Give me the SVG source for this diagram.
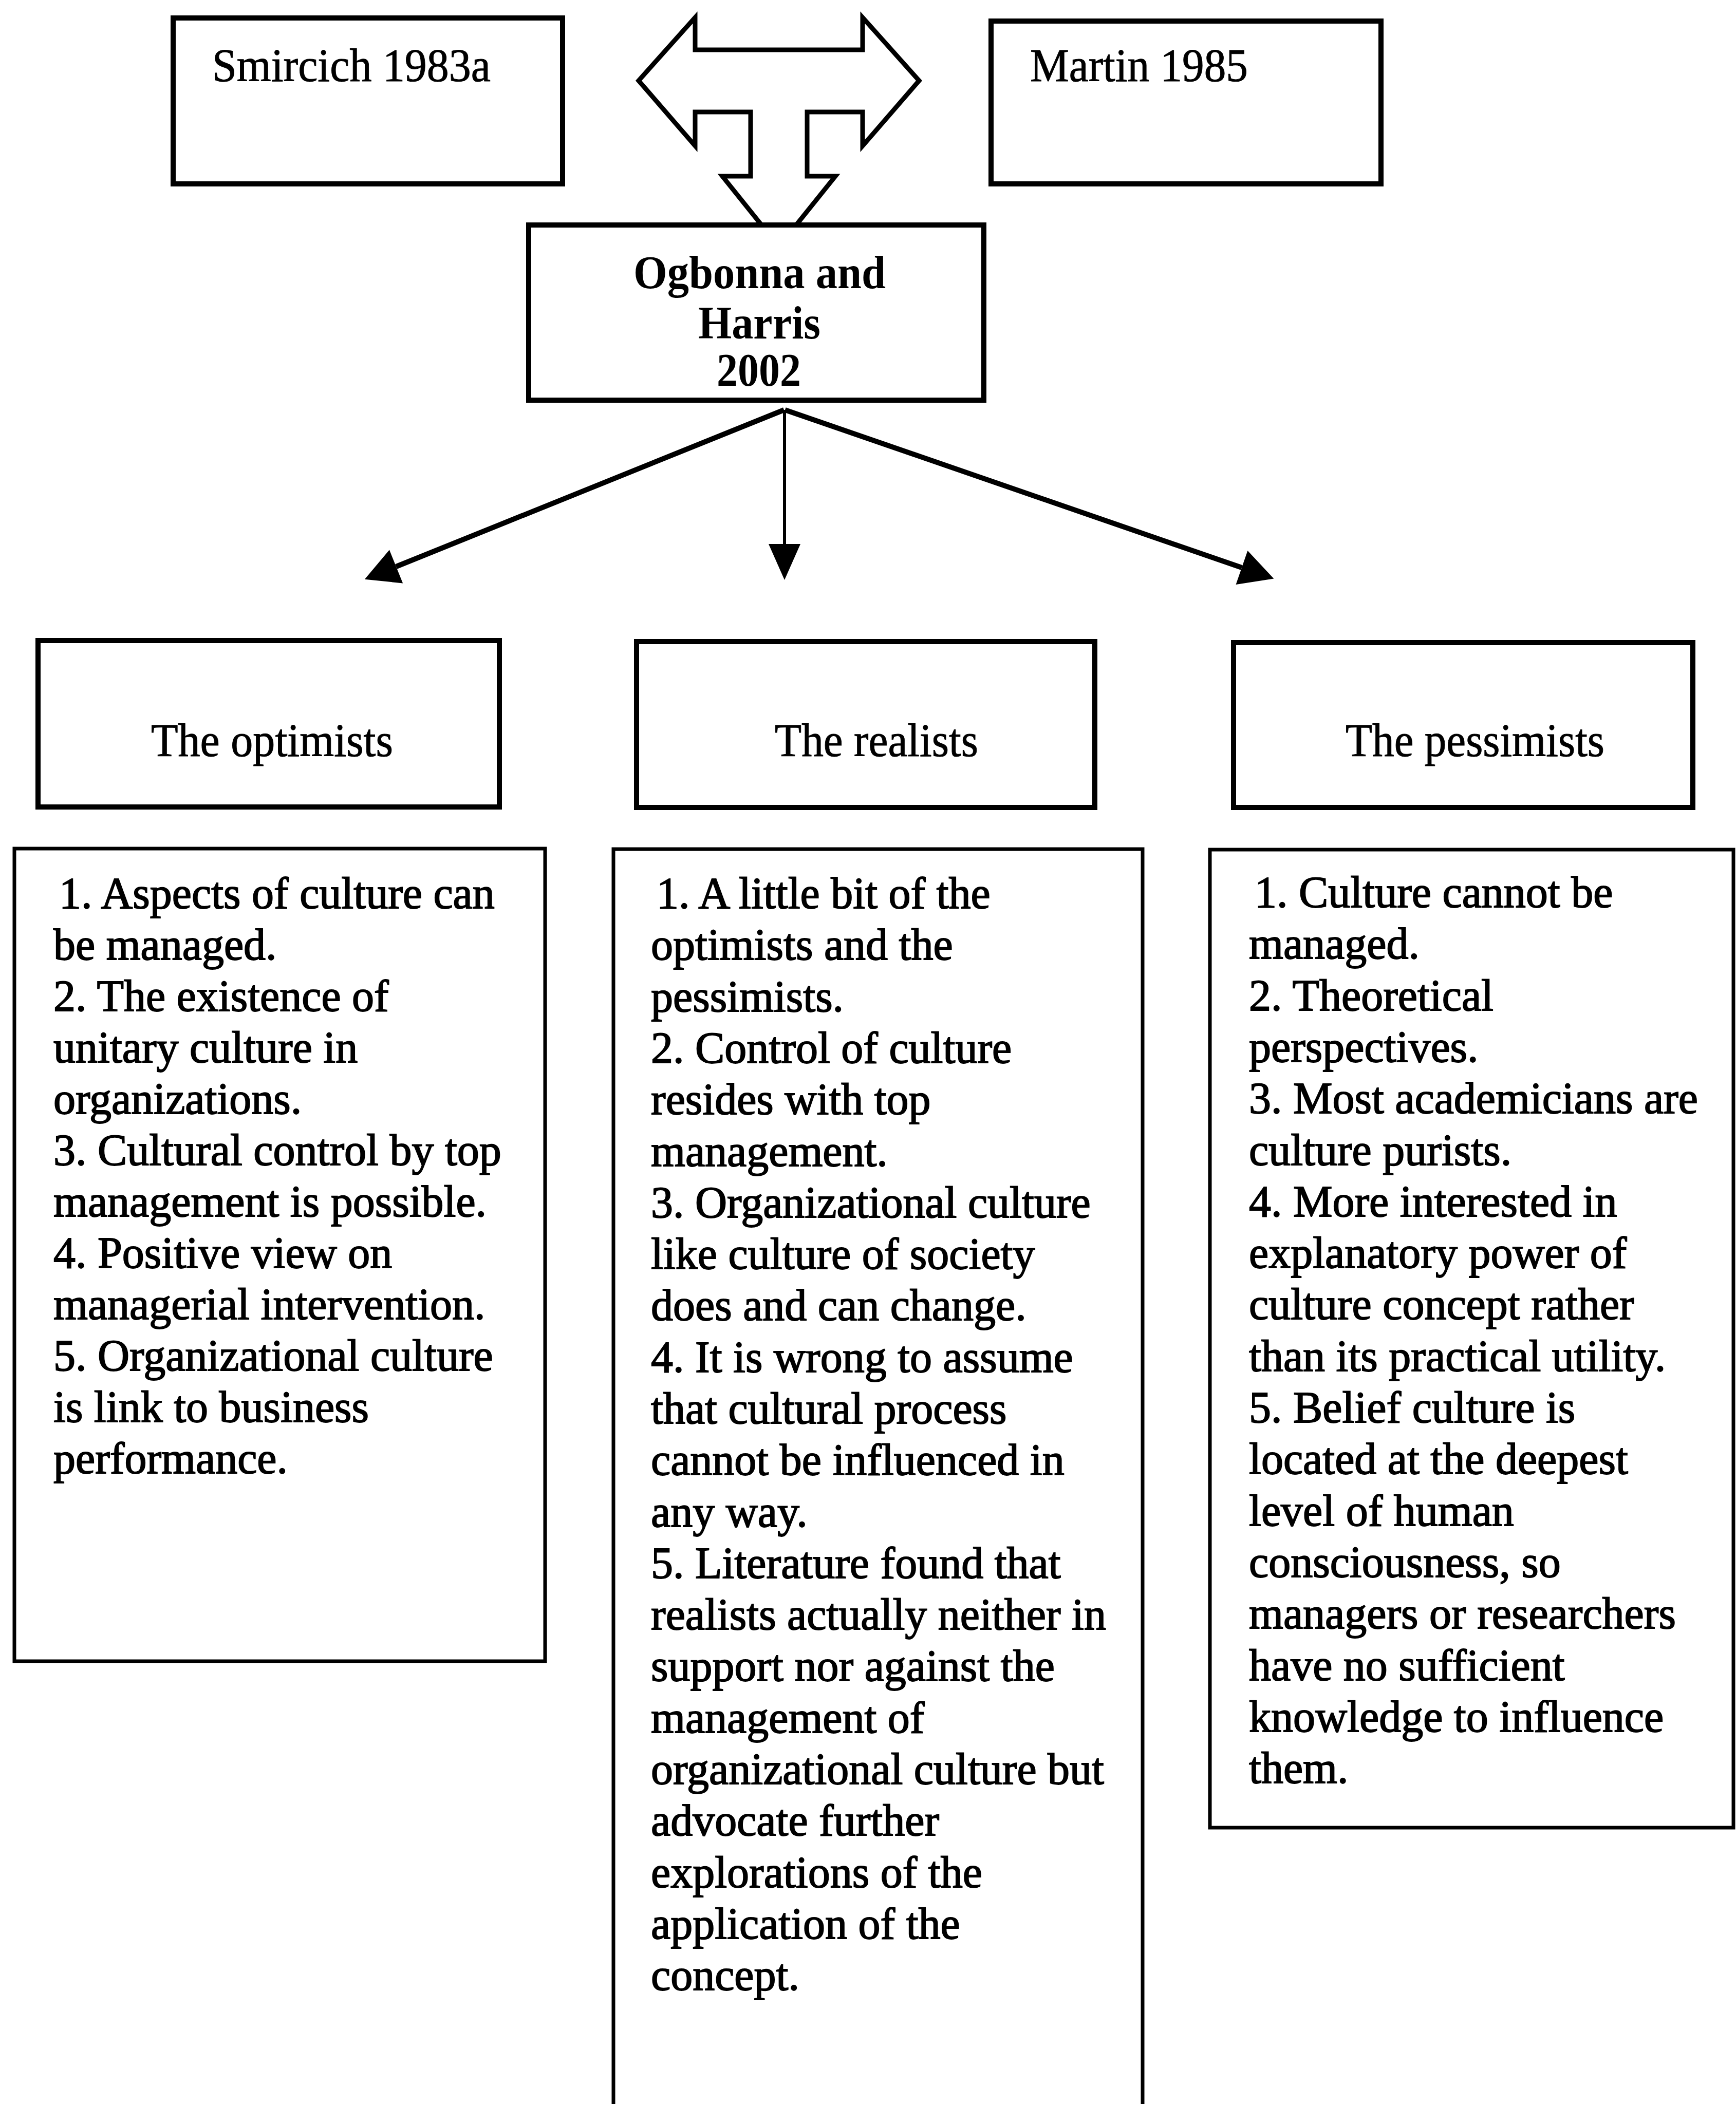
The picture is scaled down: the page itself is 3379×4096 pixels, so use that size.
<svg xmlns="http://www.w3.org/2000/svg" width="3379" height="4096" viewBox="0 0 3379 4096">
  <style>
    .box { fill: #fff; stroke: #000; stroke-width: 10; }
    .list { fill: #fff; stroke: #000; stroke-width: 7; }
    .label { font-family: "Liberation Serif", "Times New Roman", serif; font-size: 92px; fill: #000; stroke: #000; stroke-width: 1; }
    .title { font-family: "Liberation Serif", "Times New Roman", serif; font-size: 90px; font-weight: bold; fill: #000; }
    .item { font-family: "Liberation Serif", "Times New Roman", serif; font-size: 86px; fill: #000; stroke: #000; stroke-width: 1.8; }
    .wire { fill: none; stroke: #000; }
    .block { fill: #fff; stroke: #000; stroke-width: 9; stroke-linejoin: miter; }
  </style>
  <defs>
    <marker id="head" markerUnits="userSpaceOnUse" markerWidth="66" markerHeight="70" refX="0" refY="35" orient="auto" overflow="visible">
      <path d="M0,0 L66,35 L0,70 Z" fill="#000"/>
    </marker>
    <marker id="headNarrow" markerUnits="userSpaceOnUse" markerWidth="70" markerHeight="62" refX="0" refY="31" orient="auto" overflow="visible">
      <path d="M0,0 L70,31 L0,62 Z" fill="#000"/>
    </marker>
  </defs>

  <rect x="0" y="0" width="3379" height="4096" fill="#fff"/>

  <!-- connectors: block double arrow and the three branches -->
  <g id="connectors">
    <polygon class="block" points="1243,157 1353,34 1353,97 1679,97 1679,34 1789,157 1679,284 1679,218 1571,218 1571,343 1626,343 1516,480 1406,343 1461,343 1461,218 1353,218 1353,284"/>
    <line class="wire" x1="1526" y1="798" x2="771" y2="1103" stroke-width="10" marker-end="url(#head)"/>
    <line class="wire" x1="1527" y1="798" x2="1527" y2="1059" stroke-width="6" marker-end="url(#headNarrow)"/>
    <line class="wire" x1="1528" y1="798" x2="2417" y2="1105" stroke-width="10" marker-end="url(#head)"/>
  </g>

  <!-- source references -->
  <g id="smircich">
    <rect class="box" x="337" y="35" width="758" height="323"/>
    <text class="label" x="413" y="158" textLength="542" lengthAdjust="spacingAndGlyphs">Smircich 1983a</text>
  </g>
  <g id="martin">
    <rect class="box" x="1929" y="41" width="759" height="317"/>
    <text class="label" x="2005" y="158" textLength="424" lengthAdjust="spacingAndGlyphs">Martin 1985</text>
  </g>
  <g id="ogbonna">
    <rect class="box" x="1029" y="438" width="886" height="341"/>
    <text class="title" x="1233" y="561" textLength="491" lengthAdjust="spacingAndGlyphs">Ogbonna and</text>
    <text class="title" x="1359" y="659" textLength="238" lengthAdjust="spacingAndGlyphs">Harris</text>
    <text class="title" x="1395" y="751" textLength="164" lengthAdjust="spacingAndGlyphs">2002</text>
  </g>

  <!-- perspective headings -->
  <g id="optimists">
    <rect class="box" x="74" y="1247" width="898" height="324"/>
    <text class="label" x="294" y="1472" textLength="471" lengthAdjust="spacingAndGlyphs">The optimists</text>
  </g>
  <g id="realists">
    <rect class="box" x="1239" y="1249" width="892" height="323"/>
    <text class="label" x="1508" y="1472" textLength="396" lengthAdjust="spacingAndGlyphs">The realists</text>
  </g>
  <g id="pessimists">
    <rect class="box" x="2401" y="1251" width="894" height="321"/>
    <text class="label" x="2619" y="1472" textLength="504" lengthAdjust="spacingAndGlyphs">The pessimists</text>
  </g>

  <!-- perspective details -->
  <g id="optimists-points">
    <rect class="list" x="28" y="1652" width="1033" height="1582"/>
    <text class="item" x="104" y="1768">
      <tspan x="115" y="1768">1. Aspects of culture can</tspan>
      <tspan x="104" y="1868">be managed.</tspan>
      <tspan x="104" y="1968">2. The existence of</tspan>
      <tspan x="104" y="2068">unitary culture in</tspan>
      <tspan x="104" y="2168">organizations.</tspan>
      <tspan x="104" y="2268">3. Cultural control by top</tspan>
      <tspan x="104" y="2368">management is possible.</tspan>
      <tspan x="104" y="2468">4. Positive view on</tspan>
      <tspan x="104" y="2568">managerial intervention.</tspan>
      <tspan x="104" y="2668">5. Organizational culture</tspan>
      <tspan x="104" y="2768">is link to business</tspan>
      <tspan x="104" y="2868">performance.</tspan>
    </text>
  </g>
  <g id="realists-points">
    <rect class="list" x="1194" y="1653" width="1030" height="2600"/>
    <text class="item" x="1267" y="1768">
      <tspan x="1278" y="1768">1. A little bit of the</tspan>
      <tspan x="1267" y="1868">optimists and the</tspan>
      <tspan x="1267" y="1969">pessimists.</tspan>
      <tspan x="1267" y="2069">2. Control of culture</tspan>
      <tspan x="1267" y="2169">resides with top</tspan>
      <tspan x="1267" y="2270">management.</tspan>
      <tspan x="1267" y="2370">3. Organizational culture</tspan>
      <tspan x="1267" y="2470">like culture of society</tspan>
      <tspan x="1267" y="2570">does and can change.</tspan>
      <tspan x="1267" y="2671">4. It is wrong to assume</tspan>
      <tspan x="1267" y="2771">that cultural process</tspan>
      <tspan x="1267" y="2871">cannot be influenced in</tspan>
      <tspan x="1267" y="2972">any way.</tspan>
      <tspan x="1267" y="3072">5. Literature found that</tspan>
      <tspan x="1267" y="3172">realists actually neither in</tspan>
      <tspan x="1267" y="3272">support nor against the</tspan>
      <tspan x="1267" y="3373">management of</tspan>
      <tspan x="1267" y="3473">organizational culture but</tspan>
      <tspan x="1267" y="3573">advocate further</tspan>
      <tspan x="1267" y="3674">explorations of the</tspan>
      <tspan x="1267" y="3774">application of the</tspan>
      <tspan x="1267" y="3874">concept.</tspan>
    </text>
  </g>
  <g id="pessimists-points">
    <rect class="list" x="2355" y="1654" width="1019" height="1904"/>
    <text class="item" x="2431" y="1766">
      <tspan x="2442" y="1766">1. Culture cannot be</tspan>
      <tspan x="2431" y="1866">managed.</tspan>
      <tspan x="2431" y="1967">2. Theoretical</tspan>
      <tspan x="2431" y="2067">perspectives.</tspan>
      <tspan x="2431" y="2167">3. Most academicians are</tspan>
      <tspan x="2431" y="2268">culture purists.</tspan>
      <tspan x="2431" y="2368">4. More interested in</tspan>
      <tspan x="2431" y="2468">explanatory power of</tspan>
      <tspan x="2431" y="2568">culture concept rather</tspan>
      <tspan x="2431" y="2669">than its practical utility.</tspan>
      <tspan x="2431" y="2769">5. Belief culture is</tspan>
      <tspan x="2431" y="2869">located at the deepest</tspan>
      <tspan x="2431" y="2970">level of human</tspan>
      <tspan x="2431" y="3070">consciousness, so</tspan>
      <tspan x="2431" y="3170">managers or researchers</tspan>
      <tspan x="2431" y="3271">have no sufficient</tspan>
      <tspan x="2431" y="3371">knowledge to influence</tspan>
      <tspan x="2431" y="3471">them.</tspan>
    </text>
  </g>
</svg>
